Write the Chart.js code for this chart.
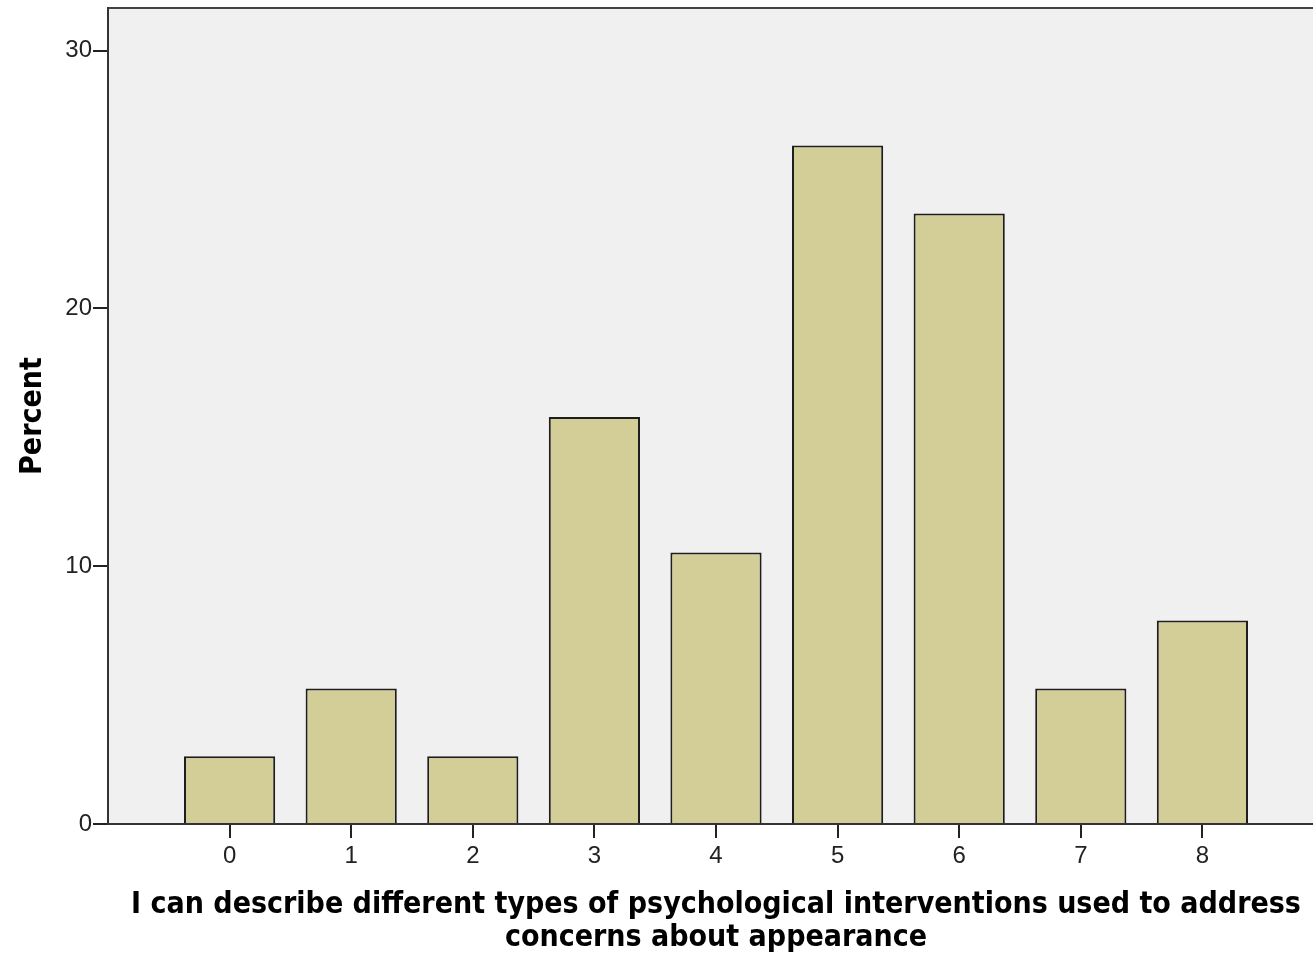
<!DOCTYPE html>
<html>
<head>
<meta charset="utf-8">
<script src="https://cdn.jsdelivr.net/npm/chart.js@4/dist/chart.umd.min.js"></script>
<style>
html,body{margin:0;padding:0;background:#fff;overflow:hidden;}
#wrap{width:1324px;height:955px;position:relative;}
</style>
</head>
<body>
<div id="wrap"><canvas id="c"></canvas></div>
<script>
const categories = [0, 1, 2, 3, 4, 5, 6, 7, 8];
const percents = [2.63, 5.26, 2.63, 15.79, 10.53, 26.32, 23.68, 5.26, 7.89];
const yTicks = [0, 10, 20, 30];
const xTitle = ['I can describe different types of psychological interventions used to address', 'concerns about appearance'];
const yTitle = 'Percent';

const bgPlugin = {
  id: 'bg',
  beforeDraw(chart) {
    const {ctx, chartArea: a} = chart;
    ctx.save();
    ctx.fillStyle = '#f0f0f0';
    ctx.fillRect(a.left, a.top, a.right - a.left, a.bottom - a.top);
    ctx.strokeStyle = '#444';
    ctx.lineWidth = 2;
    ctx.beginPath();
    ctx.moveTo(a.left, a.top);
    ctx.lineTo(a.right, a.top);
    ctx.stroke();
    ctx.restore();
  }
};

const titleFont = {family: '"DejaVu Sans Condensed", "DejaVu Sans", sans-serif', weight: 'bold', size: 30, lineHeight: 1.1};
const tickFont = {family: '"Liberation Sans", Arial, sans-serif', size: 24};

new Chart(document.getElementById('c'), {
  type: 'bar',
  data: {
    datasets: [{
      data: categories.map((c, i) => ({x: c, y: percents[i]})),
      backgroundColor: '#d3ce98',
      borderColor: '#1e1e1e',
      borderWidth: 2,
      borderSkipped: 'bottom',
      barPercentage: 0.75,
      categoryPercentage: 1
    }]
  },
  plugins: [bgPlugin],
  options: {
    responsive: true,
    maintainAspectRatio: false,
    animation: false,
    layout: {padding: {top: 8, right: 0, left: 0, bottom: 0}},
    plugins: {legend: {display: false}, tooltip: {enabled: false}},
    scales: {
      x: {
        type: 'linear',
        offset: false,
        min: -1,
        max: 9,
        afterBuildTicks(s) { s.ticks = categories.map(v => ({value: v})); },
        afterFit(s) { s.height = 131; s.paddingLeft = 0; s.paddingRight = 0; },
        grid: {offset: false, drawOnChartArea: false, drawTicks: true, tickLength: 14, color: '#222', lineWidth: 2},
        border: {display: true, color: '#333', width: 2},
        ticks: {font: tickFont, color: '#222', padding: 4, maxRotation: 0, autoSkip: false},
        title: {display: true, text: xTitle, font: titleFont, color: '#000', padding: {top: 4, bottom: 0}}
      },
      y: {
        min: 0,
        max: 31.65,
        afterBuildTicks(s) { s.ticks = yTicks.map(v => ({value: v})); },
        afterFit(s) { s.width = 108; s.paddingTop = 0; s.paddingBottom = 0; },
        grid: {drawOnChartArea: false, drawTicks: true, tickLength: 15, color: '#222', lineWidth: 2},
        border: {display: true, color: '#333', width: 2},
        ticks: {font: tickFont, color: '#222', padding: 1},
        title: {display: true, text: yTitle, font: titleFont, color: '#000', padding: {top: 17, bottom: 0}}
      }
    }
  }
});
</script>
</body>
</html>
